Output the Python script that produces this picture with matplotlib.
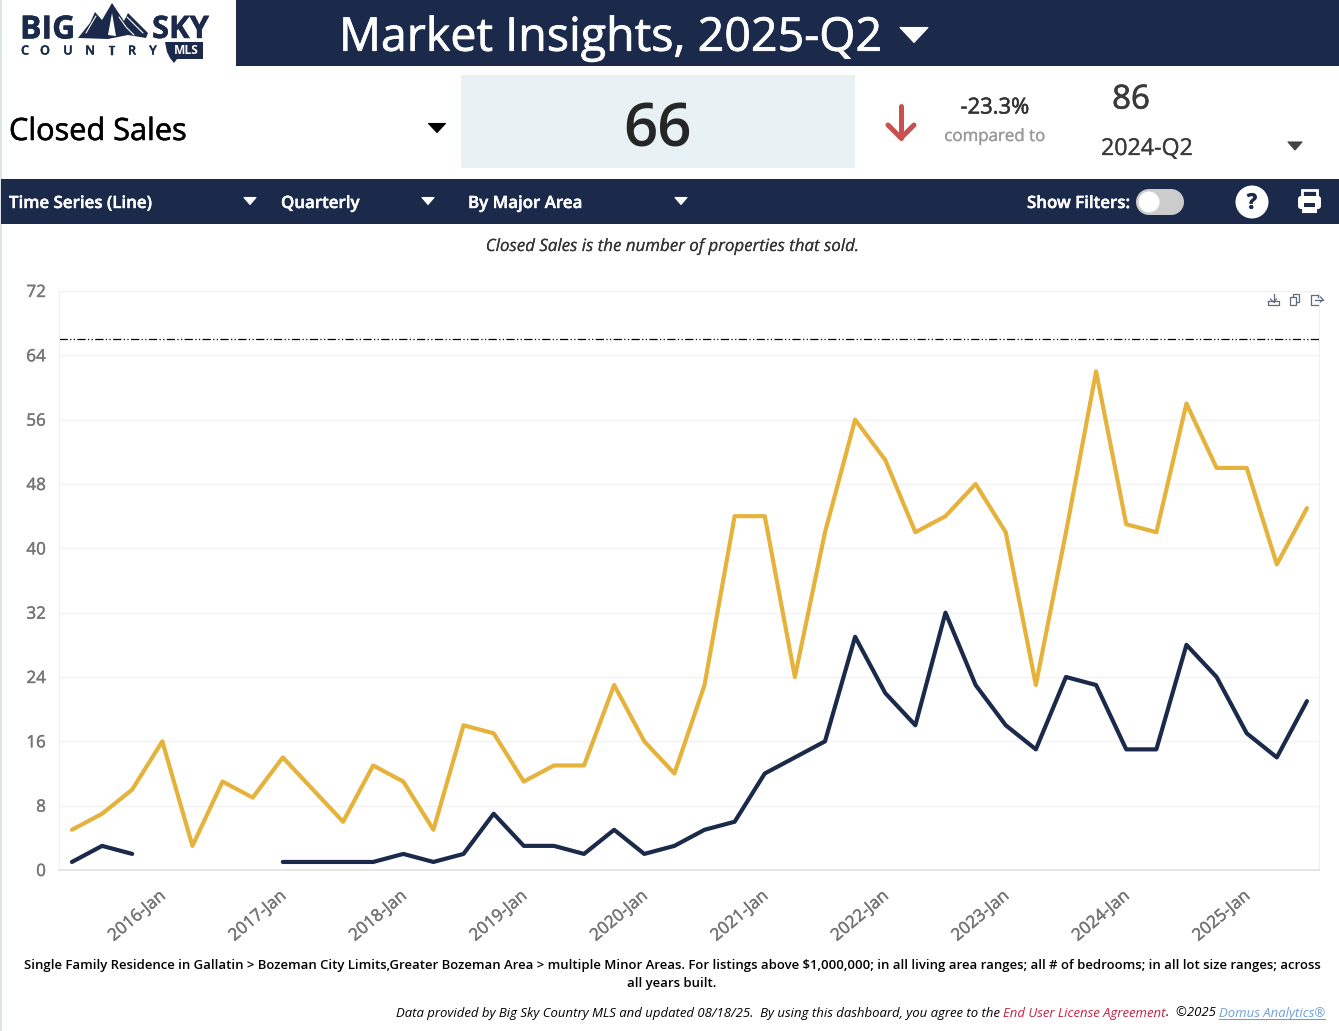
import matplotlib
matplotlib.use('Agg')
import matplotlib.pyplot as plt
import matplotlib.patheffects as pe
import matplotlib.transforms as mtrans
import numpy as np
from matplotlib.patches import Rectangle, Polygon, Circle, FancyBboxPatch

plt.rcParams['font.family'] = ['Open Sans', 'DejaVu Sans']

# Quarterly closed sales
quarters = ['2015-Apr', '2015-Jul', '2015-Oct',
            '2016-Jan', '2016-Apr', '2016-Jul', '2016-Oct',
            '2017-Jan', '2017-Apr', '2017-Jul', '2017-Oct',
            '2018-Jan', '2018-Apr', '2018-Jul', '2018-Oct',
            '2019-Jan', '2019-Apr', '2019-Jul', '2019-Oct',
            '2020-Jan', '2020-Apr', '2020-Jul', '2020-Oct',
            '2021-Jan', '2021-Apr', '2021-Jul', '2021-Oct',
            '2022-Jan', '2022-Apr', '2022-Jul', '2022-Oct',
            '2023-Jan', '2023-Apr', '2023-Jul', '2023-Oct',
            '2024-Jan', '2024-Apr', '2024-Jul', '2024-Oct',
            '2025-Jan', '2025-Apr', '2025-Jul']
gold_sales = [5, 7, 10, 16, 3, 11, 9, 14, 10, 6, 13, 11, 5, 18, 17, 11, 13, 13, 23, 16, 12,
              23, 44, 44, 24, 42, 56, 51, 42, 44, 48, 42, 23, 42, 62, 43, 42, 58, 50, 50, 38, 45]
navy_sales = [1, 3, 2, None, None, None, None, 1, 1, 1, 1, 2, 1, 2, 7, 3, 3, 2, 5, 2, 3,
              5, 6, 12, 14, 16, 29, 22, 18, 32, 23, 18, 15, 24, 23, 15, 15, 28, 24, 17, 14, 21]
reference_line = 66
y_ticks = [0, 8, 16, 24, 32, 40, 48, 56, 64, 72]

NAVY = '#1b2a4a'
GOLD = '#e5b23c'
TICK_GREY = '#757575'
ICON_GREY = '#5f6b7a'

W, H = 1339, 1031
fig = plt.figure(figsize=(W / 100, H / 100), dpi=100, facecolor='white')

# page layer in pixel coordinates, y pointing down
page = fig.add_axes([0, 0, 1, 1])
page.set_xlim(0, W)
page.set_ylim(H, 0)
page.axis('off')


def px(size):
    return size * 0.72


def label(x, y, s, size, color='black', ha='left', va='center', fat=0, **kw):
    t = page.text(x, y, s, fontsize=px(size), color=color, ha=ha, va=va, **kw)
    if fat:
        t.set_path_effects([pe.withStroke(linewidth=fat, foreground=color)])
    return t


def caret(x, y, w, h, color):
    page.add_patch(Polygon([(x - w / 2, y - h / 2), (x + w / 2, y - h / 2), (x, y + h / 2)],
                           closed=True, fc=color, ec=color, lw=0.8, joinstyle='round'))


def stroke(xs, ys, color, lw):
    page.plot(xs, ys, color=color, lw=lw, solid_capstyle='round', solid_joinstyle='round')


# page frame and bands
page.add_patch(Rectangle((0, 0), 1.5, H, fc='#dde3ea', ec='none'))
page.add_patch(Rectangle((236, 0), W - 236, 66, fc=NAVY, ec='none'))
page.add_patch(Rectangle((1, 179), W, 45, fc=NAVY, ec='none'))
page.add_patch(Rectangle((461, 75), 394, 93, fc='#e8f1f4', ec='none'))

# logo
label(20, 30, 'BIG', 32, NAVY, weight='bold', fat=0.3)
label(152, 30, 'SKY', 31, NAVY, weight='bold', fat=0.3)
page.add_patch(Polygon([(78, 38), (90, 23), (95, 12), (102, 20), (112, 3), (124, 21), (128, 13),
                        (148, 33), (146, 38), (128, 35), (108, 39)],
                       closed=True, fc=NAVY, ec='none'))
page.add_patch(Polygon([(108, 35), (112, 13), (116, 36)], closed=True, fc='white', ec='none'))
stroke([119, 126, 134], [17, 27, 35], 'white', 0.8)
stroke([127, 134, 143], [17, 24, 33], 'white', 0.8)
stroke([96, 90, 86], [16, 26, 33], 'white', 0.8)
for x_letter, letter in zip([25, 45, 68, 90, 112, 132, 153], 'COUNTRY'):
    label(x_letter, 51, letter, 12.5, NAVY, ha='center', weight='semibold', fat=0.3)
page.add_patch(Polygon([(165, 42), (203, 42), (203, 59), (177, 59), (174, 63), (170, 58), (167, 52)],
                       closed=True, fc=NAVY, ec='none'))
label(186, 51, 'MLS', 12, 'white', ha='center', weight='bold')

# header
label(339, 38, 'Market Insights, 2025-Q2', 46.6, 'white', weight='medium', fat=0.5)
caret(914, 35, 28, 15, 'white')

# KPI row
label(9, 132, 'Closed Sales', 30.7, 'black', weight='medium', fat=0.4)
caret(437, 128, 17, 9, 'black')
label(658, 131, 66, 60, '#262626', ha='center', weight='semibold')
stroke([901, 901], [106, 138], '#c9504f', 3.6)
stroke([888, 901, 914], [125, 138, 125], '#c9504f', 3.6)
label(995, 108, '-23.3%', 22, '#333333', ha='center', weight='medium', fat=0.4)
label(995, 137, 'compared to', 16.9, '#999999', ha='center', fat=0.2)
label(1131, 100, '86', 33, '#3a3a3a', ha='center', weight='medium', fat=0.5)
label(1101, 149, '2024-Q2', 23.2, '#3a3a3a', fat=0.2)
caret(1295, 146, 14, 8, '#444444')

# toolbar
label(9, 204, 'Time Series (Line)', 16.9, 'white', weight='semibold', fat=0.3)
caret(250, 201, 12, 7, 'white')
label(281, 204, 'Quarterly', 16.9, 'white', weight='semibold', fat=0.3)
caret(428, 201, 12, 7, 'white')
label(468, 204, 'By Major Area', 16.9, 'white', weight='semibold', fat=0.3)
caret(681, 201, 12, 7, 'white')
label(1027, 204, 'Show Filters:', 16.9, 'white', weight='semibold', fat=0.3)
page.add_patch(Rectangle((1149, 189), 22, 26, fc='#cccccc', ec='none'))
page.add_patch(Circle((1149, 202), 13, fc='#cccccc', ec='none'))
page.add_patch(Circle((1171, 202), 13, fc='#cccccc', ec='none'))
page.add_patch(Circle((1149, 202), 10.5, fc='white', ec='none'))
page.add_patch(Circle((1252, 202), 16.5, fc='white', ec='none'))
label(1252, 203, '?', 21, NAVY, ha='center', weight='bold', fat=0.5)
# printer icon
page.add_patch(FancyBboxPatch((1298, 196), 23, 13, boxstyle='round,pad=0,rounding_size=3', fc='white', ec='none'))
page.add_patch(Rectangle((1302, 190), 15, 7, fc='none', ec='white', lw=2))
page.add_patch(Rectangle((1303, 204), 13, 8, fc='white', ec='white', lw=1.5))
page.add_patch(Rectangle((1304, 203), 11, 3.5, fc=NAVY, ec='none'))

label(672, 247, 'Closed Sales is the number of properties that sold.', 16.9, '#333333', ha='center', style='italic', fat=0.1)

# chart
ax = fig.add_axes([59 / W, 1 - 870 / H, (1319 - 59) / W, (870 - 291) / H])
ax.patch.set_alpha(0)
navy_values = np.array([np.nan if v is None else v for v in navy_sales], dtype=float)
ax.plot(quarters, gold_sales, color=GOLD, lw=3.0, solid_joinstyle='round', solid_capstyle='round', zorder=3)
ax.plot(quarters, navy_values, color=NAVY, lw=3.0, solid_joinstyle='round', solid_capstyle='round', zorder=4)
ax.axhline(reference_line, color='black', lw=0.9, ls=(0, (6.6, 1.9, 1, 1.9, 1, 1.9)), zorder=2)
ax.set_xlim(-0.43, 41.4)
ax.set_ylim(0, 72)
ax.set_yticks(y_ticks)
ax.grid(axis='y', color='#f3f3f3', lw=1)
ax.set_axisbelow(True)
ax.tick_params(length=0)
ax.tick_params(axis='y', labelsize=px(17), labelcolor=TICK_GREY, pad=9.4)
ax.set_xticks(range(3, len(quarters), 4))
ax.set_xticklabels(quarters[3::4], rotation=40, ha='right', rotation_mode='anchor',
                   fontsize=px(17), color=TICK_GREY)
ax.tick_params(axis='x', pad=13)
shift = mtrans.ScaledTranslation(-3.5 / 100, 0, fig.dpi_scale_trans)
for t in ax.get_xticklabels():
    t.set_transform(t.get_transform() + shift)
for t in ax.get_xticklabels() + ax.get_yticklabels():
    t.set_path_effects([pe.withStroke(linewidth=0.3, foreground=TICK_GREY)])
for side in ['top', 'left', 'right']:
    ax.spines[side].set_color('#f0f0f0')
ax.spines['bottom'].set_color('#e2e2e2')
ax.spines['bottom'].set_linewidth(1.2)

# toolbox icons, top right of chart
top = fig.add_axes([0, 0, 1, 1], zorder=5)
top.set_xlim(0, W)
top.set_ylim(H, 0)
top.axis('off')
top.plot([1268, 1268, 1279, 1279, 1268], [301, 305, 305, 301, 301], color=ICON_GREY, lw=0.9)
top.plot([1273.5, 1273.5], [294, 302], color=ICON_GREY, lw=0.9)
top.plot([1270.5, 1273.5, 1276.5], [299, 302, 299], color=ICON_GREY, lw=0.9)
top.add_patch(Rectangle((1293, 294), 6, 8, fc='none', ec=ICON_GREY, lw=0.9))
top.add_patch(Rectangle((1290, 297), 6, 8, fc='white', ec=ICON_GREY, lw=0.9))
top.plot([1318, 1311, 1311, 1318], [295, 295, 305, 305], color=ICON_GREY, lw=0.9)
top.plot([1318, 1318], [295, 297], color=ICON_GREY, lw=0.9)
top.plot([1315, 1323], [299.5, 299.5], color=ICON_GREY, lw=0.9)
top.plot([1320.5, 1323, 1320.5], [297, 299.5, 302], color=ICON_GREY, lw=0.9)

# notes
label(672, 966, 'Single Family Residence in Gallatin > Bozeman City Limits,Greater Bozeman Area > multiple Minor Areas. '
      'For listings above $1,000,000; in all living area ranges; all # of bedrooms; in all lot size ranges; across',
      13.1, 'black', ha='center', weight='semibold')
label(672, 984, 'all years built.', 13.1, 'black', ha='center', weight='semibold')
label(396, 1013, 'Data provided by Big Sky Country MLS and updated 08/18/25.  By using this dashboard, you agree to the',
      13.13, 'black', style='italic')
label(1003, 1013, 'End User License Agreement', 13.13, '#c8203f', style='italic')
label(1166, 1013, '.  \u00a92025', 13.13, 'black', style='italic')
label(1219, 1013, 'Domus Analytics\u00ae', 13.13, '#6f9fd8', style='italic')
page.plot([1219, 1325], [1019, 1019], color='#6f9fd8', lw=0.8)

fig.savefig('out.png', dpi=100, facecolor='white')
